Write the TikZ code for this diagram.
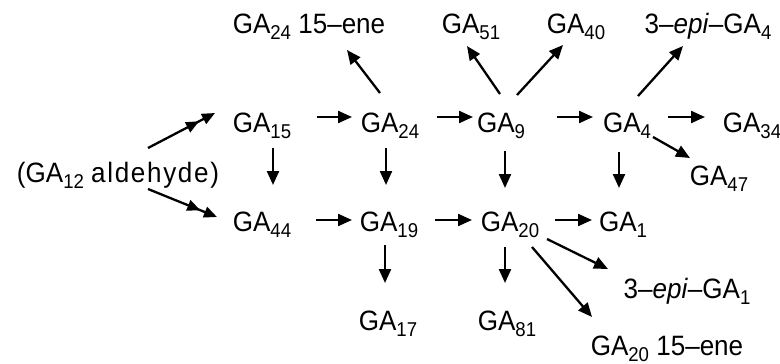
\documentclass[tikz,border=0pt]{standalone}
\usepackage{fontspec}
\setmainfont{Liberation Sans}[FakeStretch=0.93]
\usetikzlibrary{arrows.meta}
\newcommand\sbs[1]{\raisebox{-6pt}{\fontsize{20}{20}\selectfont #1}}
\begin{document}
\begin{tikzpicture}[x=1pt,y=-1pt,
  lbl/.style={anchor=base,inner sep=0pt,font=\fontsize{28}{32}\selectfont},
  arr/.style={line width=2.3pt,-{Triangle[length=14pt,width=12pt]}},
  darr/.style={line width=2.3pt,-{Triangle[length=13pt,width=11pt,sep=5pt]Triangle[length=13pt,width=11pt]}}]
\useasboundingbox[fill=white] (0,0) rectangle (780,364);
% nodes
\node[lbl] (ald) at (118,182) {(GA\sbs{12} {\addfontfeature{LetterSpace=6}aldehyde)}};
\node[lbl] (ga15) at (262,132) {GA\sbs{15}};
\node[lbl] (ga24) at (390,132) {GA\sbs{24}};
\node[lbl] (ga9) at (501,132) {GA\sbs{9}};
\node[lbl] (ga4) at (627,132) {GA\sbs{4}};
\node[lbl] (ga34) at (752,132) {GA\sbs{34}};
\node[lbl] (ga47) at (719,185) {GA\sbs{47}};
\node[lbl] (ga2415) at (309,33) {GA\sbs{24} 15–ene};
\node[lbl] (ga51) at (471,33) {GA\sbs{51}};
\node[lbl] (ga40) at (576,33) {GA\sbs{40}};
\node[lbl] (epi4) at (708,33) {3–\textit{epi}–GA\sbs{4}};
\node[lbl] (ga44) at (262,231) {GA\sbs{44}};
\node[lbl] (ga19) at (389,231) {GA\sbs{19}};
\node[lbl] (ga20) at (510,231) {GA\sbs{20}};
\node[lbl] (ga1) at (623,231) {GA\sbs{1}};
\node[lbl] (epi1) at (687,298) {3–\textit{epi}–GA\sbs{1}};
\node[lbl] (ga17) at (388,330) {GA\sbs{17}};
\node[lbl] (ga81) at (507,330) {GA\sbs{81}};
\node[lbl] (ga2015) at (667,355) {GA\sbs{20} 15–ene};
% connectors
\draw[darr] ([shift={(30,-34)}]ald.base) -- ([shift={(-47,-19)}]ga15.base);
\draw[darr] ([shift={(30,7)}]ald.base) -- ([shift={(-45,-14)}]ga44.base);
\draw[arr] ([shift={(55,-15)}]ga15.base) -- ([shift={(-38,-15)}]ga24.base);
\draw[arr] ([shift={(47,-15)}]ga24.base) -- ([shift={(-28,-15)}]ga9.base);
\draw[arr] ([shift={(56,-15)}]ga9.base) -- ([shift={(-34,-15)}]ga4.base);
\draw[arr] ([shift={(41,-15)}]ga4.base) -- ([shift={(-47,-15)}]ga34.base);
\draw[arr] ([shift={(26,5)}]ga4.base) -- ([shift={(-29,-27)}]ga47.base);
\draw[arr] ([shift={(11,-36)}]ga4.base) -- ([shift={(-25,13)}]epi4.base);
\draw[arr] ([shift={(-1,-38)}]ga9.base) -- ([shift={(-4,13)}]ga51.base);
\draw[arr] ([shift={(16,-37)}]ga9.base) -- ([shift={(-13,12)}]ga40.base);
\draw[arr] ([shift={(-10,-39)}]ga24.base) -- ([shift={(38,17)}]ga2415.base);
\draw[arr] ([shift={(11,16)}]ga15.base) -- ([shift={(11,-46)}]ga44.base);
\draw[arr] ([shift={(-4,16)}]ga24.base) -- ([shift={(-3,-46)}]ga19.base);
\draw[arr] ([shift={(4,19)}]ga9.base) -- ([shift={(-5,-43)}]ga20.base);
\draw[arr] ([shift={(-8,20)}]ga4.base) -- ([shift={(-4,-43)}]ga1.base);
\draw[arr] ([shift={(54,-11)}]ga44.base) -- ([shift={(-37,-11)}]ga19.base);
\draw[arr] ([shift={(46,-11)}]ga19.base) -- ([shift={(-38,-11)}]ga20.base);
\draw[arr] ([shift={(45,-11)}]ga20.base) -- ([shift={(-31,-11)}]ga1.base);
\draw[arr] ([shift={(37,8)}]ga20.base) -- ([shift={(-79,-29)}]epi1.base);
\draw[arr] ([shift={(22,16)}]ga20.base) -- ([shift={(-75,-38)}]ga2015.base);
\draw[arr] ([shift={(-4,14)}]ga19.base) -- ([shift={(-3,-47)}]ga17.base);
\draw[arr] ([shift={(-5,16)}]ga20.base) -- ([shift={(-2,-47)}]ga81.base);
\end{tikzpicture}
\end{document}
